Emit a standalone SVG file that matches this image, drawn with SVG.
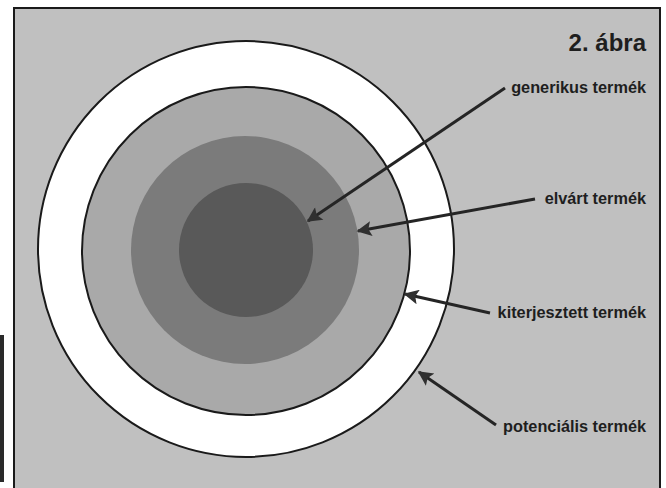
<svg xmlns="http://www.w3.org/2000/svg" width="666" height="488" viewBox="0 0 666 488">
<defs>
<style>
.lbl{font-family:"Liberation Sans",Arial,sans-serif;font-weight:bold;font-size:16.3px;fill:#1e1e1e;text-anchor:end}
.conn{stroke:#252525;stroke-width:3;fill:none}
</style>
<marker id="ah" viewBox="0 0 10 10" refX="9" refY="5" markerWidth="7" markerHeight="5" orient="auto" markerUnits="strokeWidth">
<path d="M0,0 L10,5 L0,10 L2,5 Z" fill="#303030"/>
</marker>
</defs>
<rect x="0" y="0" width="666" height="488" fill="#ffffff"/>
<rect x="0" y="335" width="4" height="147" fill="#2a2a2a"/>
<rect x="14" y="8" width="646" height="490" fill="#c0c0c0" stroke="#1a1a1a" stroke-width="2"/>
<g id="potencialis">
<circle cx="246" cy="249" r="208" fill="#ffffff" stroke="#1a1a1a" stroke-width="2"/>
</g>
<g id="kiterjesztett">
<circle cx="246" cy="251" r="164" fill="#a9a9a9" stroke="#1a1a1a" stroke-width="2"/>
</g>
<g id="elvart">
<circle cx="245" cy="250" r="114" fill="#7b7b7b"/>
</g>
<g id="generikus">
<circle cx="246" cy="250" r="67" fill="#595959"/>
</g>
<g id="connectors">
<line class="conn" x1="505" y1="88" x2="308" y2="221" marker-end="url(#ah)"/>
<line class="conn" x1="535" y1="199" x2="358" y2="231" marker-end="url(#ah)"/>
<line class="conn" x1="490" y1="313" x2="405" y2="294" marker-end="url(#ah)"/>
<line class="conn" x1="496" y1="425" x2="419" y2="372" marker-end="url(#ah)"/>
</g>
<g id="labels">
<text class="lbl" x="646" y="51" style="font-size:24px">2. ábra</text>
<text class="lbl" x="646" y="93">generikus termék</text>
<text class="lbl" x="646" y="204">elvárt termék</text>
<text class="lbl" x="646" y="318">kiterjesztett termék</text>
<text class="lbl" x="646" y="432">potenciális termék</text>
</g>
</svg>
